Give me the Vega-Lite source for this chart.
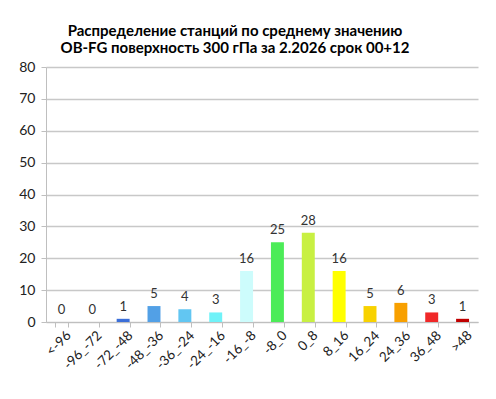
{
  "$schema": "https://vega.github.io/schema/vega-lite/v6.json",
  "width": 432,
  "height": 255,
  "autosize": "none",
  "padding": {"left": 46, "top": 67, "right": 18, "bottom": 77},
  "background": "white",
  "title": {
    "text": "Распределение станций по среднему значению",
    "subtitle": "OB-FG поверхность  300 гПа за 2.2026 срок 00+12",
    "font": "Lato",
    "fontSize": 15,
    "fontWeight": "bold",
    "color": "#000000",
    "subtitleFont": "Lato",
    "subtitleFontSize": 15,
    "subtitleFontWeight": "bold",
    "subtitleColor": "#000000",
    "subtitlePadding": 2,
    "anchor": "middle",
    "dx": -27,
    "dy": 4,
    "offset": 8
  },
  "data": {
    "values": [
      {"cat": "<-96", "n": 0, "color": "#ffffff"},
      {"cat": "-96_-72", "n": 0, "color": "#ffffff"},
      {"cat": "-72_-48", "n": 1, "color": "#3b6fd9"},
      {"cat": "-48_-36", "n": 5, "color": "#52a0e6"},
      {"cat": "-36_-24", "n": 4, "color": "#62c6f2"},
      {"cat": "-24_-16", "n": 3, "color": "#70f2f8"},
      {"cat": "-16_-8", "n": 16, "color": "#cdfcfc"},
      {"cat": "-8_0", "n": 25, "color": "#4cec58"},
      {"cat": "0_8", "n": 28, "color": "#c8f042"},
      {"cat": "8_16", "n": 16, "color": "#ffff00"},
      {"cat": "16_24", "n": 5, "color": "#f8d200"},
      {"cat": "24_36", "n": 6, "color": "#f8a000"},
      {"cat": "36_48", "n": 3, "color": "#f02828"},
      {"cat": ">48", "n": 1, "color": "#c00000"}
    ]
  },
  "encoding": {
    "x": {
      "field": "cat", "type": "nominal", "sort": null,
      "scale": {"paddingInner": 0.58, "paddingOuter": 0.29},
      "axis": {
        "title": null, "labelAngle": -45, "labelAlign": "right", "labelBaseline": "middle",
        "labelFont": "Lato", "labelFontSize": 13.5, "labelColor": "#222222",
        "domainColor": "#bfbfbf", "tickColor": "#bfbfbf", "tickSize": 5, "labelPadding": 6,
        "labelOffset": 7, "tickBand": "extent"
      }
    },
    "y": {
      "field": "n", "type": "quantitative",
      "scale": {"domain": [0, 80]},
      "axis": {
        "title": null, "values": [0, 10, 20, 30, 40, 50, 60, 70, 80],
        "labelFont": "Lato", "labelFontSize": 14, "labelColor": "#222222",
        "gridColor": "#c8c8c8", "gridWidth": 1.5, "domainColor": "#bfbfbf", "tickColor": "#bfbfbf",
        "tickSize": 5, "labelPadding": 6
      }
    }
  },
  "layer": [
    {"mark": {"type": "bar"}, "encoding": {"color": {"field": "color", "type": "nominal", "scale": null}}},
    {"mark": {"type": "text", "dy": -12, "font": "Lato", "fontSize": 13, "color": "#333333"}, "encoding": {"text": {"field": "n"}}}
  ],
  "config": {"view": {"stroke": null}}
}
